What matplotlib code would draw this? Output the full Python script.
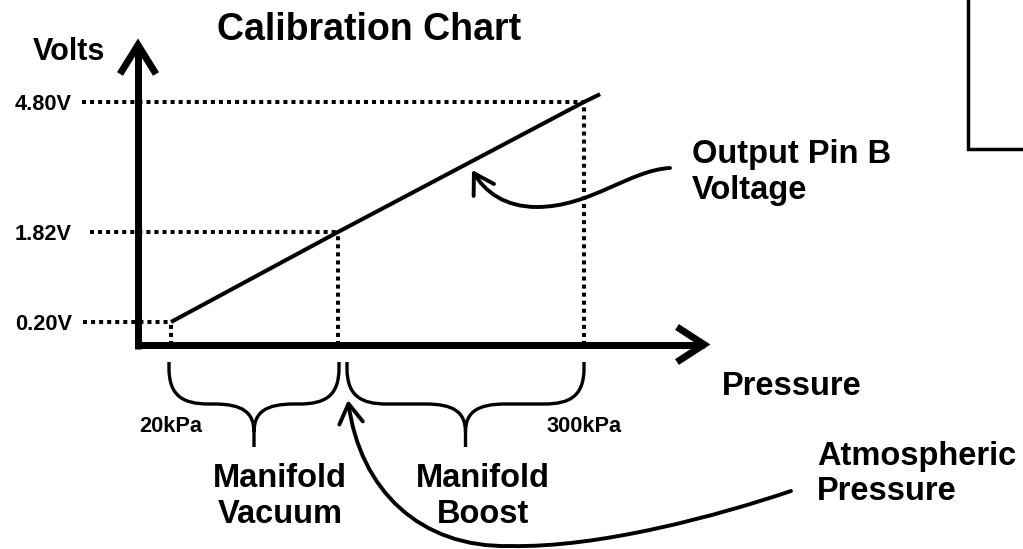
import numpy as np
import matplotlib
matplotlib.use("Agg")
import matplotlib.pyplot as plt
from matplotlib.path import Path
from matplotlib.patches import FancyArrowPatch, PathPatch

plt.rcParams['font.family'] = ['Liberation Sans', 'DejaVu Sans']
plt.rcParams['font.weight'] = 'bold'

# ---- chart values ----
PRESSURE_KPA = [20, 101.3, 300]          # min, atmospheric, max
PRESSURE_TICKS = [20, 300]
PRESSURE_TICK_LABELS = ['20kPa', '300kPa']
VOLTS = [0.20, 1.82, 4.80]
VOLT_LABELS = ['0.20V', '1.82V', '4.80V']
LINE_KPA = [20, 101.3, 300, 313]
LINE_V = [0.20, 1.82, 4.80, 4.98]
RANGE_NAMES = ['Manifold\nVacuum', 'Manifold\nBoost']
TITLE = 'Calibration Chart'
YLABEL = 'Volts'
XLABEL = 'Pressure'
LINE_NAME = 'Output Pin B\nVoltage'
ATM_NAME = 'Atmospheric\nPressure'

W, H = 1023, 549
fig = plt.figure(figsize=(W / 100, H / 100), dpi=100)

# schematic (not-to-scale) axis: piecewise linear scale through the marked values
PX_X = [171, 338, 584]
PX_Y = [-322, -232, -102]


def piecewise(src, dst):
    src = np.asarray(src, float)
    dst = np.asarray(dst, float)
    s0 = (dst[1] - dst[0]) / (src[1] - src[0])
    s1 = (dst[-1] - dst[-2]) / (src[-1] - src[-2])

    def f(v):
        v = np.asarray(v, float)
        mid = np.interp(v, src, dst)
        return np.where(v < src[0], dst[0] + (v - src[0]) * s0,
                        np.where(v > src[-1], dst[-1] + (v - src[-1]) * s1, mid))
    return f


fwd_x, inv_x = piecewise(PRESSURE_KPA, PX_X), piecewise(PX_X, PRESSURE_KPA)
fwd_y, inv_y = piecewise(VOLTS, PX_Y), piecewise(PX_Y, VOLTS)

left_px, bottom_px = 80, 410
ax = fig.add_axes([left_px / W, (H - bottom_px) / H, (W - left_px) / W, bottom_px / H])
ax.set_xscale('function', functions=(fwd_x, inv_x))
ax.set_yscale('function', functions=(fwd_y, inv_y))
ax.set_xlim(float(inv_x(left_px)), float(inv_x(W)))
ax.set_ylim(float(inv_y(-bottom_px)), float(inv_y(0)))
ax.patch.set_visible(False)
for s in ax.spines.values():
    s.set_visible(False)
ax.set_xticks(PRESSURE_TICKS, PRESSURE_TICK_LABELS, fontweight='bold')
ax.set_yticks(VOLTS, VOLT_LABELS, fontweight='bold')
ax.tick_params(length=0, labelsize=15.7)
ax.tick_params(axis='x', pad=4.3)
ax.tick_params(axis='y', pad=5.8)

# overlay in figure pixels for the drawing decorations
deco = fig.add_axes([0, 0, 1, 1])
deco.set_xlim(0, W)
deco.set_ylim(H, 0)
deco.axis('off')
deco.patch.set_visible(False)


def px_to_data(px, py):
    return ax.transData.inverted().transform(deco.transData.transform((px, py)))


def data_to_px(x, y):
    return deco.transData.inverted().transform(ax.transData.transform((x, y)))


# calibration line
ax.plot(LINE_KPA, LINE_V, color='k', lw=2.9, solid_capstyle='butt', clip_on=False, zorder=3)

# dotted guides
dot = (0, (1, 1))
axis_v = px_to_data(0, 345)[1]
start_px = [83, 90, 82]
starts = [px_to_data(p, 0)[0] for p in start_px]
ax.hlines(VOLTS, starts, PRESSURE_KPA, colors='k', linestyles=[dot], lw=2.9, clip_on=False)
ax.vlines(PRESSURE_KPA, axis_v, VOLTS, colors='k', linestyles=[dot], lw=2.9, clip_on=False)

# axes arrows
k = dict(color='k', lw=5, solid_capstyle='butt', solid_joinstyle='miter')
deco.plot([138, 138], [348.5, 45], **k)
deco.plot([120, 138, 156], [74, 45, 74], **k)
deco.plot([134.5, 704], [345, 345], **k)
deco.plot([677, 704, 677], [327, 344.5, 362], **k)

# top-right box corner
deco.plot([968, 968, 1030], [-5, 149, 149], color='k', lw=2.5, solid_joinstyle='miter')


# braces under the axis
def brace(x0, x1, top=362, bar=404, tip=447):
    xm = (x0 + x1) / 2
    r = min(40, (x1 - x0) / 4 - 2)
    v = [(x0, top), (x0, 368), (x0, 396), (x0 + r * 0.35, bar), (x0 + r, bar),
         (xm - r, bar), (xm - r * 0.3, bar), (xm, bar + 8), (xm, bar + 28), (xm, tip),
         (x1, top), (x1, 368), (x1, 396), (x1 - r * 0.35, bar), (x1 - r, bar),
         (xm + r, bar), (xm + r * 0.3, bar), (xm, bar + 8), (xm, bar + 28)]
    c = [Path.MOVETO, Path.LINETO, Path.CURVE4, Path.CURVE4, Path.CURVE4,
         Path.LINETO, Path.CURVE4, Path.CURVE4, Path.CURVE4, Path.LINETO,
         Path.MOVETO, Path.LINETO, Path.CURVE4, Path.CURVE4, Path.CURVE4,
         Path.LINETO, Path.CURVE4, Path.CURVE4, Path.CURVE4]
    deco.add_patch(PathPatch(Path(v, c), fc='none', ec='k', lw=2.4))


p_lo = data_to_px(PRESSURE_KPA[0], VOLTS[0])[0]
p_atm = data_to_px(PRESSURE_KPA[1], VOLTS[0])[0]
p_hi = data_to_px(PRESSURE_KPA[2], VOLTS[0])[0]
brace(p_lo - 2, p_atm + 1)
brace(p_atm + 9, p_hi)

# curved pointer arrows
C4 = Path.CURVE4
out_path = Path([(670, 168), (630, 170), (590, 207), (537, 207), (505, 207), (485, 192), (472, 170)],
                [Path.MOVETO, C4, C4, C4, C4, C4, C4])
atm_path = Path([(791, 491), (720, 515), (600, 548), (510, 546), (420, 548), (360, 490), (348, 400)],
                [Path.MOVETO, C4, C4, C4, C4, C4, C4])
for pth in (out_path, atm_path):
    deco.add_patch(FancyArrowPatch(path=pth, arrowstyle='->,head_length=1.4,head_width=0.85',
                                   mutation_scale=10, color='k', lw=2.8,
                                   transform=deco.transData))

# texts
deco.text(369, 40, TITLE, ha='center', va='baseline', fontsize=27)
deco.text(69, 60, YLABEL, ha='center', va='baseline', fontsize=22)
deco.text(722, 395, XLABEL, ha='left', va='baseline', fontsize=23.5)
for i, line in enumerate(LINE_NAME.split('\n')):
    deco.text(692, 163 + 36 * i, line, ha='left', va='baseline', fontsize=23.5)
for i, line in enumerate(ATM_NAME.split('\n')):
    deco.text(817, 465 + 35 * i, line, ha='left', va='baseline', fontsize=23.5)
for cx, name in zip([280, 483], RANGE_NAMES):
    for i, line in enumerate(name.split('\n')):
        deco.text(cx, 487 + 36 * i, line, ha='center', va='baseline', fontsize=23.5)

fig.savefig('out.png', dpi=100, facecolor='white')
